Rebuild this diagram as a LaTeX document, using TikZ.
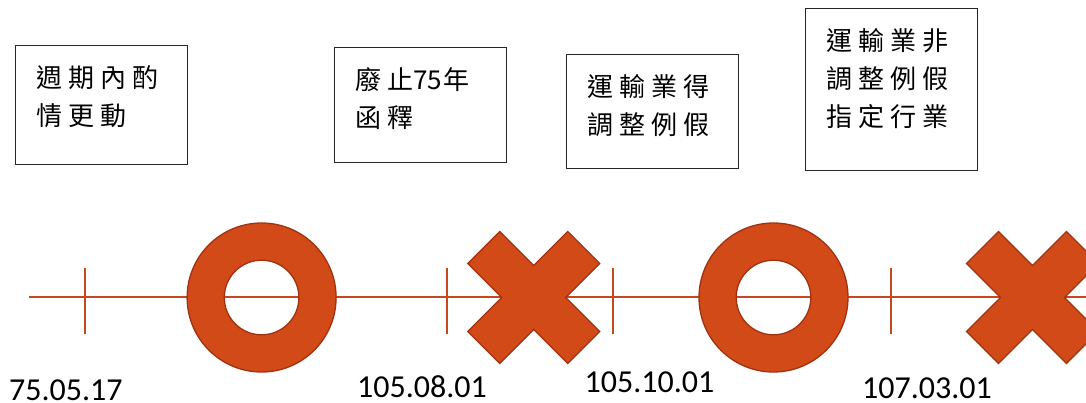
\documentclass[tikz,border=0pt]{standalone}
\usepackage{fontspec}
\newfontfamily\cjk{Noto Sans CJK TC}[LetterSpace=23]
\newfontfamily\cjkdig{Noto Sans CJK TC}
\newfontfamily\datef{Carlito}
\definecolor{shapefill}{RGB}{209,74,23}
\definecolor{shapeedge}{RGB}{160,50,18}
\definecolor{axisc}{RGB}{200,72,30}
\newcommand\boxtext[2]{\parbox[c][#1][t]{172pt}{\cjk\fontsize{26}{38}\selectfont\leftskip=21pt\rule{0pt}{42pt}#2}}
\tikzset{
  infobox/.style={draw=black!85, line width=1.1pt, inner sep=0pt, anchor=north west},
  axisline/.style={draw=axisc, line width=2pt},
  datelbl/.style={font=\datef\fontsize{32}{38}\selectfont, anchor=base west, inner sep=0pt, text depth=0pt},
  markfill/.style={fill=shapefill, draw=shapeedge, line width=1.3pt},
  xcross/.pic={\path[markfill] (0,-32) -- (34,-66) -- (66,-34) -- (32,0) -- (66,34) -- (34,66) -- (0,32) -- (-34,66) -- (-66,34) -- (-32,0) -- (-66,-34) -- (-34,-66) -- cycle;},
  oring/.pic={\path[markfill, even odd rule] (0,0) circle[radius=74.5pt] (0,0) circle[radius=37.3pt];}
}
\begin{document}
\begin{tikzpicture}[x=1pt,y=-1pt]
\useasboundingbox (0,0) rectangle (1086,402);
\clip (0,0) rectangle (1086,402);
% boxes
\node[infobox] (b1) at (15,45) {\boxtext{118.5pt}{週期內酌\\情更動}};
\node[infobox] (b2) at (334,47) {\boxtext{115pt}{廢止{\cjkdig 75}\kern1pt 年\\函釋}};
\node[infobox] (b3) at (566,54) {\boxtext{114pt}{運輸業得\\調整例假}};
\node[infobox] (b4) at (805,8) {\boxtext{162pt}{運輸業非\\調整例假\\指定行業}};
% axis
\coordinate (ax0) at (29,297.3);
\coordinate (ax1) at (1086,297.3);
\draw[axisline] (ax0) -- (ax1);
\foreach \t in {85.3,446.6,612.7,891.4} \draw[axisline] (\t,268) -- (\t,334);
% marks
\pic at (261.6,297.5) {oring};
\pic at (533.7,297.5) {xcross};
\pic at (773.5,297.5) {oring};
\pic at (1032.5,297.5) {xcross};
% dates
\node[datelbl] (d1) at (9,400.5) {75.05.17};
\node[datelbl] (d2) at (357,397) {105.08.01};
\node[datelbl] (d3) at (584.5,392) {105.10.01};
\node[datelbl] (d4) at (862,398) {107.03.01};
\end{tikzpicture}
\end{document}
